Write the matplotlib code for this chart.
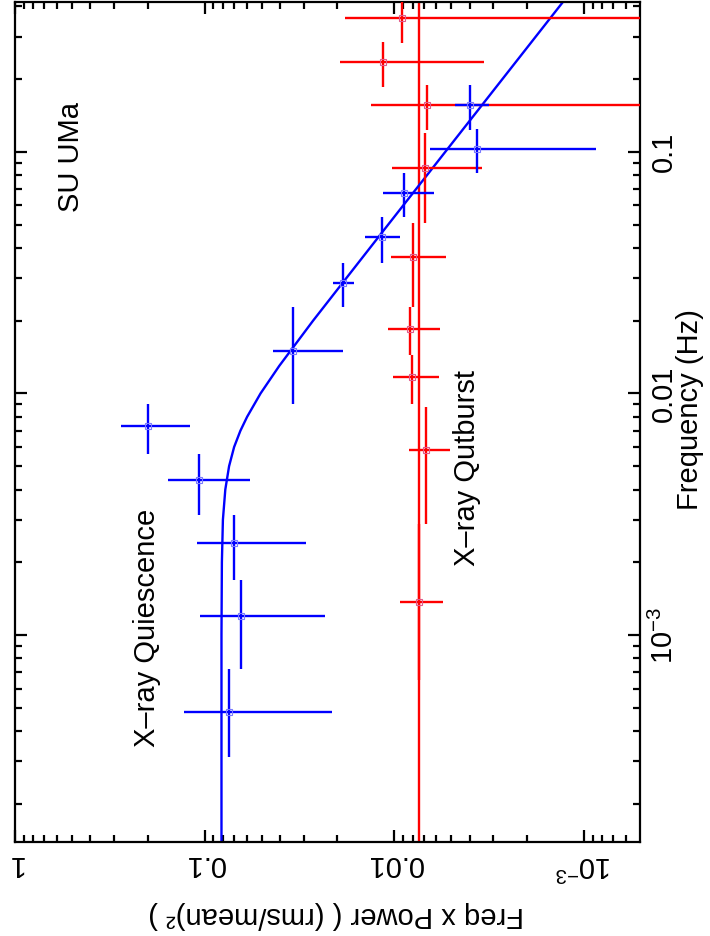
import numpy as np
import matplotlib
matplotlib.use("Agg")
import matplotlib.pyplot as plt
from matplotlib.ticker import LogLocator, NullFormatter

plt.rcParams['font.family'] = ['Liberation Sans', 'DejaVu Sans']
plt.rcParams['mathtext.fontset'] = 'custom'
plt.rcParams['mathtext.rm'] = 'Liberation Sans'
plt.rcParams['mathtext.it'] = 'Liberation Sans:italic'

# quiescence (blue): frequency bin centre / edges, freq x power centre / range
q_freq = [4.80e-4, 1.20e-3, 2.41e-3, 4.37e-3, 7.31e-3, 1.50e-2, 2.86e-2, 4.42e-2, 6.76e-2, 0.1026, 0.1556]
q_freq_lo = [3.12e-4, 7.26e-4, 1.69e-3, 3.15e-3, 5.60e-3, 9.03e-3, 2.28e-2, 3.48e-2, 5.38e-2, 8.16e-2, 0.123]
q_freq_hi = [7.26e-4, 1.69e-3, 3.15e-3, 5.60e-3, 9.03e-3, 2.28e-2, 3.48e-2, 5.38e-2, 8.18e-2, 0.1242, 0.1889]
q_pow = [0.0741, 0.0645, 0.0697, 0.1066, 0.1981, 0.0342, 0.01856, 0.01164, 0.00885, 0.003672, 0.003968]
q_pow_lo = [0.0201, 0.02383, 0.02979, 0.0581, 0.1194, 0.02462, 0.0161, 0.00895, 0.00617, 8.98e-4, 0.003125]
q_pow_hi = [0.1269, 0.1057, 0.1101, 0.1554, 0.2770, 0.0498, 0.02077, 0.01396, 0.0115, 0.00648, 0.00478]

# outburst (red)
o_freq = [0.3568, 0.2359, 0.1556, 0.0854, 0.03652, 0.0185, 0.0117, 5.82e-3, 1.37e-3]
o_freq_lo = [0.2812, 0.1859, 0.1230, 0.0508, 0.02281, 0.0144, 9.03e-3, 2.873e-3, 6.49e-4]
o_freq_hi = [0.45, 0.2846, 0.1889, 0.1199, 0.0508, 0.02281, 0.0144, 8.79e-3, 2.873e-3]
o_pow = [0.00913, 0.01142, 0.00669, 0.00688, 0.00793, 0.00823, 0.00803, 0.00677, 0.00743]
o_pow_lo = [1e-4, 0.003498, 1e-4, 0.00343, 0.00544, 0.00569, 0.00585, 0.00516, 0.00555]
o_pow_hi = [0.01891, 0.01948, 0.01326, 0.01031, 0.01052, 0.01074, 0.01023, 0.00843, 0.00932]

# model curves
q_model_freq = [1.3e-4, 1e-3, 2e-3, 3e-3, 4e-3, 5e-3, 6e-3, 7e-3, 8e-3, 1e-2, 1.3e-2, 2e-2, 3e-2, 5e-2, 0.5]
q_model_pow = [0.0815, 0.0815, 0.0811, 0.0801, 0.0778, 0.0743, 0.0699, 0.0648, 0.0597, 0.0507, 0.0404, 0.0268, 0.0179, 0.01076, 1.076e-3]
o_model_freq = [1e-4, 1.0]
o_model_pow = [0.0074, 0.0074]

pow_ticks = [1, 0.1, 0.01, 1e-3]
pow_labels = ['1', '0.1', '0.01', r'$\mathregular{10^{-3}}$']
freq_ticks = [0.1, 0.01, 1e-3]
freq_labels = ['0.1', '0.01', r'$\mathregular{10^{-3}}$']


def draw_set(ax, f, flo, fhi, p, plo, phi, color, mec):
    f, flo, fhi = np.array(f), np.array(flo), np.array(fhi)
    p, plo, phi = np.array(p), np.array(plo), np.array(phi)
    ax.errorbar(p, f, xerr=[phi - p, p - plo], yerr=[f - flo, fhi - f],
                fmt='s', ms=4, mfc='none', mec=mec, mew=0.8,
                ecolor=color, elinewidth=1.7, capsize=0, zorder=3)


fig = plt.figure(figsize=(7.1, 9.36), dpi=100)
ax = fig.add_axes([15 / 710, 94 / 936, 625 / 710, 840 / 936])
ax.set_xscale('log')
ax.set_yscale('log')

ax.plot(o_model_pow, o_model_freq, color='red', lw=1.7, zorder=2)
ax.plot(q_model_pow, q_model_freq, color='blue', lw=1.7, zorder=2)
draw_set(ax, o_freq, o_freq_lo, o_freq_hi, o_pow, o_pow_lo, o_pow_hi, 'red', '#e05a8a')
draw_set(ax, q_freq, q_freq_lo, q_freq_hi, q_pow, q_pow_lo, q_pow_hi, 'blue', '#7a7aff')

ax.set_xlim(1, 5.06e-4)
ax.set_ylim(1.39e-4, 0.417)

ax.xaxis.set_minor_locator(LogLocator(base=10, subs=np.arange(2, 10)))
ax.yaxis.set_minor_locator(LogLocator(base=10, subs=np.arange(2, 10)))
ax.xaxis.set_minor_formatter(NullFormatter())
ax.yaxis.set_minor_formatter(NullFormatter())
ax.set_xticks(pow_ticks)
ax.set_xticklabels(pow_labels, rotation=180, fontsize=21)
ax.set_yticks(freq_ticks)
ax.set_yticklabels(freq_labels, rotation=90, fontsize=21, va='center')

ax.tick_params(which='both', direction='in', top=True, bottom=True, left=True, right=True,
               labelleft=False, labelright=True, width=1.6)
ax.tick_params(which='major', length=8.5)
ax.tick_params(which='minor', length=4.8)
ax.tick_params(axis='x', pad=6)
ax.tick_params(axis='y', pad=7)
for s in ax.spines.values():
    s.set_linewidth(1.6)

ax.set_xlabel('Freq x Power ( (rms/mean)\u00b2 )', fontsize=21, rotation=180, va='center')
ax.xaxis.set_label_coords((336 - 15) / 625, (842 - 915) / 840)
ax.yaxis.set_label_position('right')
ax.set_ylabel('Frequency (Hz)', fontsize=21, rotation=90, va='center', ha='center')
ax.yaxis.set_label_coords((690 - 15) / 625, (842 - 410) / 840)

ax.text((71 - 15) / 625, (842 - 157) / 840, 'SU UMa', transform=ax.transAxes,
        rotation=90, fontsize=21, ha='center', va='center')
ax.text((147 - 15) / 625, (842 - 628) / 840, 'X\u2013ray Quiescence', transform=ax.transAxes,
        rotation=90, fontsize=21, ha='center', va='center')
ax.text((467 - 15) / 625, (842 - 468) / 840, 'X\u2013ray Qutburst', transform=ax.transAxes,
        rotation=90, fontsize=21, ha='center', va='center')

fig.savefig('out.png', dpi=100)
